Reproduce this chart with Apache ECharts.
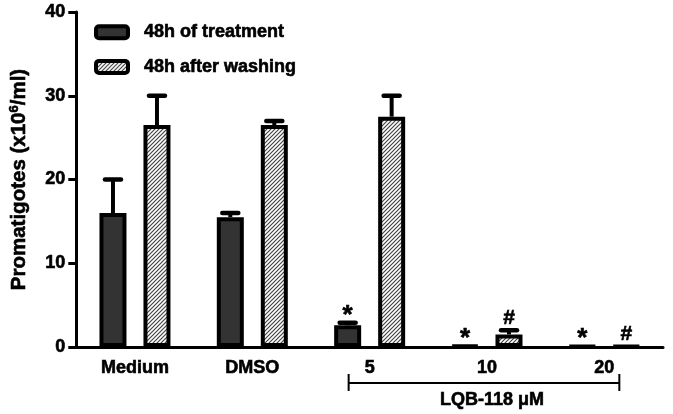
<!DOCTYPE html>
<html>
<head>
<meta charset="utf-8">
<script src="https://cdn.jsdelivr.net/npm/echarts@6/dist/echarts.min.js"></script>
<style>
html,body{margin:0;padding:0;background:#fff;}
#c{width:673px;height:414px;}
</style>
</head>
<body>
<div id="c"></div>
<script>
const categories = ['Medium', 'DMSO', '5', '10', '20'];
const treatment = [16.0, 15.5, 2.6, 0.15, 0.1];
const treatmentErr = [4.0, 0.5, 0.3, 0, 0];
const washing = [26.5, 26.5, 27.5, 1.5, 0.1];
const washingErr = [3.5, 0.5, 2.5, 0.5, 0];
const treatmentMarks = ['', '', '*', '*', '*'];
const washingMarks = ['', '', '', '#', '#'];
const yTicks = [0, 10, 20, 30, 40];
const groupLabel = 'LQB-118 \u03bcM';

const FONT = '"Liberation Sans", Arial, sans-serif';
const BAR_W = 27, BAR_GAP = 17;
const TB = { textBorderColor: '#000', textBorderWidth: 0.6 };
const GS = { stroke: '#000', lineWidth: 0.6 };

function hatch() {
  const c = document.createElement('canvas');
  c.width = 4; c.height = 4;
  const g = c.getContext('2d');
  g.fillStyle = '#ffffff';
  g.fillRect(0, 0, 4, 4);
  g.strokeStyle = '#444444';
  g.lineWidth = 1.2;
  g.beginPath();
  g.moveTo(-1, 5); g.lineTo(5, -1);
  g.moveTo(-3, 3); g.lineTo(3, -3);
  g.moveTo(1, 7); g.lineTo(7, 1);
  g.stroke();
  return { image: c, repeat: 'repeat' };
}
const hatchFill = hatch();

function errSeries(vals, errs, marks, sign) {
  return {
    type: 'custom',
    coordinateSystem: 'cartesian2d',
    z: 5,
    silent: true,
    data: vals.map((v, i) => [i, v, errs[i]]),
    encode: { x: 0, y: 1 },
    renderItem: function (params, api) {
      const i = api.value(0), v = api.value(1), e = api.value(2);
      const off = sign * (BAR_W + BAR_GAP) / 2;
      const base = api.coord([i, v]);
      const top = api.coord([i, v + e]);
      const x = base[0] + off;
      const children = [];
      if (e > 0) {
        children.push({ type: 'line', shape: { x1: x, y1: base[1], x2: x, y2: top[1] },
          style: { stroke: '#000', lineWidth: 4 } });
        children.push({ type: 'line', shape: { x1: x - 8, y1: top[1], x2: x + 8, y2: top[1] },
          style: { stroke: '#000', lineWidth: 4.5, lineCap: 'round' } });
      }
      const m = marks[params.dataIndex];
      if (m) {
        const big = m === '*';
        children.push({ type: 'text', x: x, y: top[1] - (big ? 7 : 12),
          style: Object.assign({ text: m, fill: '#000', font: 'bold ' + (big ? 26 : 21) + 'px ' + FONT,
            align: 'center', verticalAlign: 'middle' }, GS) });
      }
      return { type: 'group', children: children };
    }
  };
}

const chart = echarts.init(document.getElementById('c'), null, { renderer: 'canvas' });
const option = {
  animation: false,
  backgroundColor: '#fff',
  grid: { left: 69, right: 10, top: 12, bottom: 67, containLabel: false },
  legend: {
    data: ['48h of treatment', '48h after washing'],
    orient: 'vertical',
    left: 89, top: 18,
    itemWidth: 32, itemHeight: 12, itemGap: 16,
    itemStyle: { borderWidth: 4, borderColor: '#000' },
    textStyle: Object.assign({ fontFamily: FONT, fontWeight: 'bold', fontSize: 18, color: '#000', padding: [0, 0, 0, 11] }, TB)
  },
  xAxis: {
    type: 'category',
    data: categories,
    axisLine: { lineStyle: { color: '#000', width: 3 } },
    axisTick: { alignWithLabel: true, length: 8, lineStyle: { color: '#000', width: 3 } },
    axisLabel: Object.assign({ fontFamily: FONT, fontWeight: 'bold', fontSize: 18, color: '#000', margin: 12 }, TB)
  },
  yAxis: {
    type: 'value',
    min: yTicks[0], max: yTicks[yTicks.length - 1], interval: 10,
    name: 'Promatigotes (x10{s|6}/ml)',
    nameLocation: 'middle',
    nameGap: 46,
    nameTextStyle: Object.assign({ fontFamily: FONT, fontWeight: 'bold', fontSize: 20.5, color: '#000',
      rich: { s: Object.assign({ fontFamily: FONT, fontWeight: 'bold', fontSize: 13, color: '#000', padding: [0, 0, 9, 0] }, TB) } }, TB),
    axisLine: { show: true, lineStyle: { color: '#000', width: 3 } },
    axisTick: { show: true, length: 8, lineStyle: { color: '#000', width: 3 } },
    axisLabel: Object.assign({ fontFamily: FONT, fontWeight: 'bold', fontSize: 18, color: '#000', margin: 11 }, TB),
    splitLine: { show: false }
  },
  series: [
    { name: '48h of treatment', type: 'bar', data: treatment, barWidth: BAR_W, barGap: (BAR_GAP / BAR_W * 100) + '%',
      itemStyle: { color: '#333333', borderColor: '#000', borderWidth: 4 } },
    { name: '48h after washing', type: 'bar', data: washing, barWidth: BAR_W,
      itemStyle: { color: hatchFill, borderColor: '#000', borderWidth: 4 } },
    errSeries(treatment, treatmentErr, treatmentMarks, -1),
    errSeries(washing, washingErr, washingMarks, 1)
  ]
};
chart.setOption(option);

const p5 = chart.convertToPixel({ xAxisIndex: 0 }, '5');
const p20 = chart.convertToPixel({ xAxisIndex: 0 }, '20');
const bx1 = p5 - 21, bx2 = p20 + 15, by = 383;
chart.setOption({
  graphic: [
    { type: 'line', shape: { x1: bx1, y1: by, x2: bx2, y2: by }, style: { stroke: '#000', lineWidth: 2 } },
    { type: 'line', shape: { x1: bx1, y1: by - 9, x2: bx1, y2: by + 8 }, style: { stroke: '#000', lineWidth: 2 } },
    { type: 'line', shape: { x1: bx2, y1: by - 9, x2: bx2, y2: by + 8 }, style: { stroke: '#000', lineWidth: 2 } },
    { type: 'text', x: (bx1 + bx2) / 2 + 8, y: 400,
      style: Object.assign({ text: groupLabel, fill: '#000', font: 'bold 18px ' + FONT, align: 'center', verticalAlign: 'middle' }, GS) }
  ]
});
</script>
</body>
</html>
